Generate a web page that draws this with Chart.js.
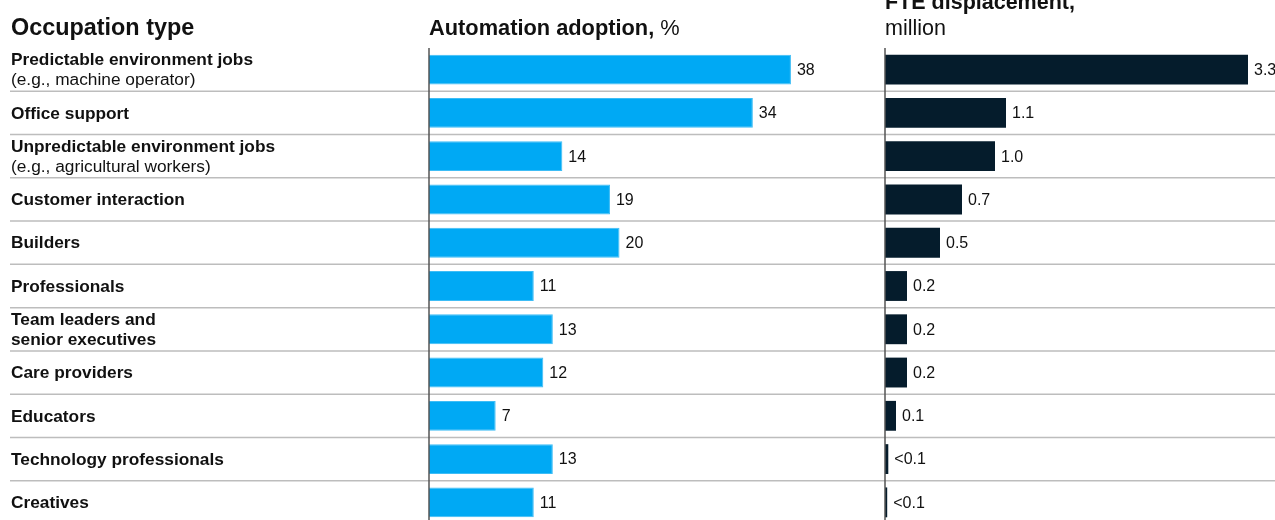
<!DOCTYPE html>
<html>
<head>
<meta charset="utf-8">
<title>Automation adoption and FTE displacement by occupation type</title>
<script src="https://cdn.jsdelivr.net/npm/chart.js@4/dist/chart.umd.min.js"></script>
<style>
  html, body { margin: 0; padding: 0; background: #ffffff; }
  #wrap { position: relative; width: 1275px; height: 520px; overflow: hidden; background: #ffffff; }
  #adoption { position: absolute; left: 0; top: 0; }
  #fte { position: absolute; left: 860px; top: 0; }
</style>
</head>
<body>
<div id="wrap">
  <canvas id="adoption" width="860" height="530"></canvas>
  <canvas id="fte" width="415" height="530"></canvas>
</div>
<script>
// Occupation categories: bold main line(s), optional plain note below
const occupations = [
  ['Predictable environment jobs'],
  ['Office support'],
  ['Unpredictable environment jobs'],
  ['Customer interaction'],
  ['Builders'],
  ['Professionals'],
  ['Team leaders and', 'senior executives'],
  ['Care providers'],
  ['Educators'],
  ['Technology professionals'],
  ['Creatives']
];
const occupationNotes = [
  '(e.g., machine operator)', '', '(e.g., agricultural workers)', '', '', '', '', '', '', '', ''
];

// Automation adoption, %
const adoptionValues = [38, 34, 14, 19, 20, 11, 13, 12, 7, 13, 11];

// FTE displacement, million
const fteValues = [3.3, 1.1, 1.0, 0.7, 0.5, 0.2, 0.2, 0.2, 0.1, 0.03, 0.02];
const fteLabels = ['3.3', '1.1', '1.0', '0.7', '0.5', '0.2', '0.2', '0.2', '0.1', '<0.1', '<0.1'];

const FONT = '"Liberation Sans", Arial, Helvetica, sans-serif';
const TEXT = '#111111';
const SEP = '#bdbdbd';
const AXIS = '#555555';
const rowKeys = occupations.map((o, i) => 'r' + i);

// Row separators, zero line and value labels, drawn from the chart's own scales
function rowDecor(opts) {
  return {
    id: 'rowDecor',
    afterDatasetsDraw(chart) {
      const ctx = chart.ctx;
      const y = chart.scales.y;
      const x = chart.scales.x;
      const area = chart.chartArea;
      ctx.save();
      // separators between rows
      ctx.strokeStyle = SEP;
      ctx.lineWidth = 1.5;
      for (let i = 0; i < rowKeys.length - 1; i++) {
        const yy = (y.getPixelForValue(i) + y.getPixelForValue(i + 1)) / 2;
        ctx.beginPath();
        ctx.moveTo(opts.lineStart, yy);
        ctx.lineTo(chart.width, yy);
        ctx.stroke();
      }
      // zero axis line
      ctx.strokeStyle = AXIS;
      ctx.lineWidth = 1.5;
      const x0 = x.getPixelForValue(0);
      ctx.beginPath();
      ctx.moveTo(x0, area.top);
      ctx.lineTo(x0, chart.height);
      ctx.stroke();
      // value labels at bar ends
      ctx.fillStyle = TEXT;
      ctx.font = '16px ' + FONT;
      ctx.textBaseline = 'middle';
      ctx.textAlign = 'left';
      const meta = chart.getDatasetMeta(0);
      meta.data.forEach((bar, i) => {
        ctx.fillText(opts.labels[i], bar.x + 6, bar.y + 1);
      });
      // headers
      opts.headers(ctx, area);
      ctx.restore();
    }
  };
}

// Occupation names to the left of the adoption bars
const occupationLabels = {
  id: 'occupationLabels',
  afterDatasetsDraw(chart) {
    const ctx = chart.ctx;
    const y = chart.scales.y;
    ctx.save();
    ctx.fillStyle = TEXT;
    ctx.textBaseline = 'middle';
    ctx.textAlign = 'left';
    occupations.forEach((lines, i) => {
      const cy = y.getPixelForValue(i);
      const all = lines.map(t => ({ t, bold: true }));
      if (occupationNotes[i]) all.push({ t: occupationNotes[i], bold: false });
      const lh = 20;
      const start = cy - (all.length - 1) * lh / 2;
      all.forEach((ln, k) => {
        ctx.font = (ln.bold ? 'bold ' : '') + '17.3px ' + FONT;
        ctx.fillText(ln.t, 11, start + k * lh + 1);
      });
    });
    ctx.restore();
  }
};

function barOptions(max, padRight, padLeft) {
  return {
    responsive: false,
    devicePixelRatio: 1,
    animation: false,
    indexAxis: 'y',
    layout: { padding: { left: padLeft, right: padRight, top: 48, bottom: 6 } },
    plugins: { legend: { display: false }, tooltip: { enabled: false } },
    scales: {
      x: { display: false, min: 0, max: max },
      y: { display: false, grid: { display: false } }
    }
  };
}

new Chart(document.getElementById('adoption'), {
  type: 'bar',
  data: {
    labels: rowKeys,
    datasets: [{
      data: adoptionValues,
      backgroundColor: '#00a9f4',
      borderColor: '#3dbdf6',
      borderWidth: 1,
      borderSkipped: 'left',
      barPercentage: 0.69,
      categoryPercentage: 1
    }]
  },
  options: barOptions(40, 50, 429),
  plugins: [occupationLabels, rowDecor({
    lineStart: 10,
    labels: adoptionValues.map(String),
    headers(ctx, area) {
      ctx.textBaseline = 'alphabetic';
      ctx.font = 'bold 23.4px ' + FONT;
      ctx.fillText('Occupation type', 11, 35);
      ctx.font = 'bold 21.8px ' + FONT;
      const head = 'Automation adoption,';
      ctx.fillText(head, area.left, 35);
      const w = ctx.measureText(head).width;
      ctx.font = '21.8px ' + FONT;
      ctx.fillText(' %', area.left + w, 35);
    }
  })]
});

new Chart(document.getElementById('fte'), {
  type: 'bar',
  data: {
    labels: rowKeys,
    datasets: [{
      data: fteValues,
      backgroundColor: '#051c2c',
      barPercentage: 0.69,
      categoryPercentage: 1
    }]
  },
  options: barOptions(3.5, 5, 25),
  plugins: [rowDecor({
    lineStart: 0,
    labels: fteLabels,
    headers(ctx, area) {
      ctx.textBaseline = 'alphabetic';
      ctx.font = 'bold 21.5px ' + FONT;
      ctx.fillText('FTE displacement,', area.left, 9);
      ctx.font = '21.5px ' + FONT;
      ctx.fillText('million', area.left, 35);
    }
  })]
});
</script>
</body>
</html>
